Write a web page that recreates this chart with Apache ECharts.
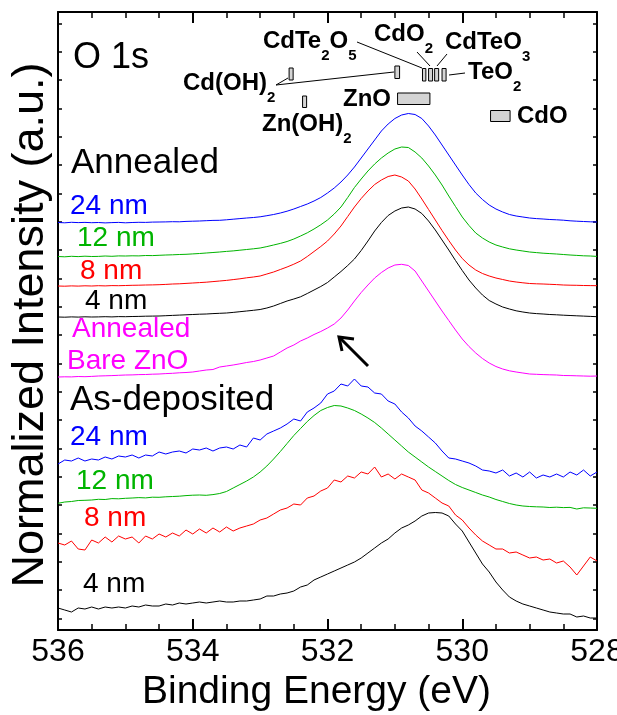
<!DOCTYPE html>
<html>
<head>
<meta charset="utf-8">
<script src="https://cdn.jsdelivr.net/npm/echarts@6/dist/echarts.min.js"></script>
<style>
html, body { margin: 0; padding: 0; background: #fff; }
#chart { width: 617px; height: 715px; }
</style>
</head>
<body>
<div id="chart"></div>
<script>
// Binding-energy grid (eV), high to low
const energy = [
  536.0, 535.9, 535.8, 535.7, 535.6, 535.5, 535.4, 535.3, 535.2, 535.1,
  535.0, 534.9, 534.8, 534.7, 534.6, 534.5, 534.4, 534.3, 534.2, 534.1,
  534.0, 533.9, 533.8, 533.7, 533.6, 533.5, 533.4, 533.3, 533.2, 533.1,
  533.0, 532.9, 532.8, 532.7, 532.6, 532.5, 532.4, 532.3, 532.2, 532.1,
  532.0, 531.9, 531.8, 531.7, 531.6, 531.5, 531.4, 531.3, 531.2, 531.1,
  531.0, 530.9, 530.8, 530.7, 530.6, 530.5, 530.4, 530.3, 530.2, 530.1,
  530.0, 529.9, 529.8, 529.7, 529.6, 529.5, 529.4, 529.3, 529.2, 529.1,
  529.0, 528.9, 528.8, 528.7, 528.6, 528.5, 528.4, 528.3, 528.2, 528.1, 528.0
];

// O 1s spectra, normalized and vertically offset (a.u.)
const annealed24 = [
  4.075, 4.072, 4.077, 4.074, 4.076, 4.073, 4.075, 4.071, 4.074, 4.076,
  4.072, 4.075, 4.077, 4.076, 4.079, 4.080, 4.081, 4.083, 4.082, 4.086,
  4.088, 4.090, 4.093, 4.096, 4.097, 4.102, 4.108, 4.114, 4.120, 4.125,
  4.132, 4.143, 4.155, 4.170, 4.188, 4.210, 4.235, 4.260, 4.290, 4.325,
  4.370, 4.420, 4.480, 4.550, 4.630, 4.720, 4.810, 4.900, 4.990, 5.060,
  5.115, 5.150, 5.165, 5.155, 5.115, 5.040, 4.950, 4.850, 4.750, 4.650,
  4.550, 4.455, 4.370, 4.305, 4.250, 4.210, 4.180, 4.155, 4.140, 4.130,
  4.120, 4.114, 4.110, 4.105, 4.102, 4.098, 4.092, 4.088, 4.085, 4.082, 4.080
];
const annealed12 = [
  3.735, 3.732, 3.737, 3.734, 3.738, 3.735, 3.736, 3.740, 3.737, 3.741,
  3.740, 3.742, 3.741, 3.745, 3.744, 3.747, 3.750, 3.752, 3.755, 3.757,
  3.761, 3.765, 3.770, 3.775, 3.780, 3.786, 3.791, 3.798, 3.805, 3.812,
  3.820, 3.834, 3.850, 3.866, 3.885, 3.910, 3.940, 3.972, 4.010, 4.052,
  4.100, 4.160, 4.230, 4.325, 4.425, 4.510, 4.590, 4.660, 4.720, 4.770,
  4.810, 4.830, 4.825, 4.780, 4.720, 4.640, 4.550, 4.450, 4.340, 4.235,
  4.130, 4.045, 3.970, 3.920, 3.880, 3.850, 3.830, 3.812, 3.800, 3.790,
  3.780, 3.774, 3.768, 3.764, 3.760, 3.755, 3.750, 3.746, 3.742, 3.740, 3.736
];
const annealed8 = [
  3.440, 3.438, 3.441, 3.439, 3.442, 3.440, 3.443, 3.441, 3.444, 3.443,
  3.445, 3.447, 3.448, 3.450, 3.451, 3.453, 3.456, 3.460, 3.462, 3.466,
  3.470, 3.474, 3.478, 3.484, 3.490, 3.496, 3.504, 3.512, 3.522, 3.530,
  3.540, 3.560, 3.580, 3.605, 3.630, 3.658, 3.690, 3.735, 3.785, 3.835,
  3.890, 3.960, 4.040, 4.135, 4.230, 4.315, 4.390, 4.455, 4.500, 4.535,
  4.550, 4.530, 4.490, 4.410, 4.310, 4.205, 4.100, 3.995, 3.895, 3.800,
  3.715, 3.650, 3.600, 3.565, 3.540, 3.520, 3.505, 3.490, 3.480, 3.472,
  3.465, 3.462, 3.460, 3.457, 3.454, 3.450, 3.448, 3.447, 3.445, 3.444, 3.443
];
const annealed4 = [
  3.130, 3.128, 3.131, 3.129, 3.132, 3.130, 3.131, 3.133, 3.131, 3.134,
  3.133, 3.135, 3.136, 3.138, 3.139, 3.140, 3.143, 3.146, 3.149, 3.152,
  3.155, 3.158, 3.160, 3.164, 3.167, 3.170, 3.176, 3.183, 3.190, 3.197,
  3.205, 3.220, 3.240, 3.265, 3.290, 3.310, 3.332, 3.365, 3.400, 3.435,
  3.475, 3.530, 3.585, 3.645, 3.710, 3.795, 3.890, 3.990, 4.075, 4.145,
  4.190, 4.220, 4.230, 4.210, 4.165, 4.090, 4.000, 3.900, 3.800, 3.695,
  3.595, 3.500, 3.420, 3.350, 3.295, 3.260, 3.230, 3.210, 3.192, 3.180,
  3.170, 3.164, 3.160, 3.155, 3.152, 3.148, 3.145, 3.142, 3.139, 3.136, 3.133
];
const bareZnO = [
  2.530, 2.532, 2.531, 2.535, 2.533, 2.536, 2.540, 2.542, 2.544, 2.547,
  2.550, 2.551, 2.554, 2.555, 2.558, 2.560, 2.564, 2.567, 2.572, 2.575,
  2.580, 2.590, 2.600, 2.605, 2.630, 2.640, 2.650, 2.662, 2.675, 2.685,
  2.700, 2.720, 2.740, 2.780, 2.820, 2.850, 2.890, 2.920, 2.955, 2.985,
  3.020, 3.060, 3.120, 3.200, 3.290, 3.375, 3.450, 3.520, 3.575, 3.620,
  3.650, 3.657, 3.645, 3.590, 3.490, 3.390, 3.290, 3.190, 3.095, 3.000,
  2.910, 2.835, 2.770, 2.715, 2.670, 2.635, 2.610, 2.592, 2.580, 2.570,
  2.560, 2.557, 2.554, 2.552, 2.550, 2.545, 2.544, 2.542, 2.540, 2.538, 2.540
];
const asDep24 = [
  1.66, 1.70, 1.69, 1.72, 1.69, 1.71, 1.70, 1.73, 1.71, 1.74,
  1.73, 1.75, 1.72, 1.75, 1.74, 1.78, 1.76, 1.78, 1.79, 1.77,
  1.81, 1.80, 1.82, 1.79, 1.82, 1.83, 1.81, 1.85, 1.83, 1.92,
  1.90, 1.96, 1.99, 2.02, 2.06, 2.11, 2.09, 2.18, 2.22, 2.27,
  2.36, 2.39, 2.46, 2.44, 2.51, 2.44, 2.43, 2.37, 2.36, 2.29,
  2.26, 2.18, 2.12, 2.04, 1.99, 1.93, 1.87, 1.79, 1.72, 1.71,
  1.69, 1.67, 1.64, 1.60, 1.59, 1.57, 1.60, 1.54, 1.57, 1.53,
  1.58, 1.52, 1.55, 1.53, 1.56, 1.53, 1.58, 1.55, 1.60, 1.54, 1.58
];
const asDep12 = [
  1.267, 1.280, 1.285, 1.295, 1.297, 1.300, 1.307, 1.305, 1.314, 1.312,
  1.317, 1.320, 1.324, 1.321, 1.328, 1.327, 1.332, 1.335, 1.338, 1.344,
  1.348, 1.350, 1.347, 1.354, 1.365, 1.385, 1.420, 1.455, 1.490, 1.530,
  1.580, 1.640, 1.710, 1.785, 1.865, 1.945, 2.015, 2.085, 2.145, 2.195,
  2.225, 2.245, 2.240, 2.220, 2.195, 2.160, 2.120, 2.075, 2.020, 1.960,
  1.900, 1.840, 1.780, 1.730, 1.680, 1.630, 1.585, 1.540, 1.495, 1.455,
  1.425, 1.400, 1.375, 1.350, 1.330, 1.305, 1.285, 1.265, 1.250, 1.240,
  1.235, 1.232, 1.230, 1.225, 1.228, 1.224, 1.226, 1.210, 1.222, 1.220, 1.217
];
const asDep8 = [
  0.87, 0.85, 0.89, 0.81, 0.80, 0.90, 0.87, 0.93, 0.88, 0.94,
  0.91, 0.93, 0.87, 0.94, 0.91, 0.96, 0.93, 0.97, 0.94, 1.00,
  0.96, 1.01, 0.97, 1.02, 0.98, 1.03, 0.99, 1.02, 1.04, 1.06,
  1.10, 1.12, 1.16, 1.20, 1.22, 1.26, 1.25, 1.32, 1.34, 1.39,
  1.42, 1.50, 1.48, 1.54, 1.52, 1.58, 1.56, 1.63, 1.53, 1.56,
  1.51, 1.56, 1.53, 1.50, 1.40, 1.37, 1.32, 1.27, 1.24, 1.15,
  1.10, 1.02, 0.95, 0.89, 0.85, 0.81, 0.81, 0.77, 0.78, 0.75,
  0.72, 0.73, 0.70, 0.71, 0.67, 0.69, 0.63, 0.55, 0.64, 0.73, 0.69
];
const asDep4 = [
  0.22, 0.20, 0.18, 0.22, 0.21, 0.23, 0.21, 0.23, 0.22, 0.23,
  0.22, 0.24, 0.23, 0.25, 0.24, 0.24, 0.26, 0.25, 0.27, 0.26,
  0.27, 0.28, 0.27, 0.28, 0.29, 0.28, 0.28, 0.29, 0.29, 0.30,
  0.31, 0.34, 0.34, 0.36, 0.37, 0.39, 0.43, 0.45, 0.50, 0.53,
  0.56, 0.59, 0.62, 0.65, 0.68, 0.72, 0.77, 0.82, 0.87, 0.91,
  0.97, 1.02, 1.05, 1.09, 1.14, 1.17, 1.175, 1.17, 1.14, 1.06,
  0.99, 0.88, 0.77, 0.66, 0.58, 0.48, 0.40, 0.33, 0.29, 0.26,
  0.24, 0.22, 0.20, 0.18, 0.17, 0.16, 0.16, 0.13, 0.14, 0.12, 0.12
];

// Reference binding-energy ranges (eV) of the candidate oxygen species
const refSpecies = ['Cd(OH)2', 'Cd(OH)2', 'Zn(OH)2', 'CdTe2O5', 'CdO2', 'CdTeO3', 'TeO2', 'ZnO', 'CdO'];
const refHigh = [532.57, 531.00, 532.37, 530.59, 530.50, 530.41, 530.30, 530.96, 529.58];
const refLow  = [532.51, 530.93, 532.31, 530.54, 530.44, 530.35, 530.24, 530.48, 529.29];

// X tick labels
const xTicks = [536, 534, 532, 530, 528];

// Vertical placement (px) of each reference bar: [top, height]
const refRows = [[68, 12], [66, 12.5], [96, 11.5], [68.5, 12.5], [68.5, 12.5], [68.5, 12.5], [68.5, 12.5], [93, 11.5], [110.5, 11]];

const FONT = '"Liberation Sans", Arial, Helvetica, sans-serif';
const BLUE = '#0000ff', GREEN = '#00b400', RED = '#ff0000', MAGENTA = '#ff00ff', BLACK = '#000000';

// y tick marks, evenly spaced along the frame
const yTickVals = [];
for (let k = 0; k <= 21; k++) yTickVals.push(+(0.117 + k * 0.28333).toFixed(4));

function pairs(arr) { return energy.map((e, i) => [e, arr[i]]); }
function spectrum(name, arr, color) {
  return {
    name, type: 'line', data: pairs(arr), showSymbol: false, symbol: 'none',
    lineStyle: { color, width: 1 }, itemStyle: { color },
    xAxisIndex: 0, yAxisIndex: 0, z: 5, silent: true
  };
}

// Text helpers: chemical formulas with subscripts
const measureCtx = document.createElement('canvas').getContext('2d');
function formula(pieces, x, yMid, main, sub) {
  const out = [];
  let cx = x;
  pieces.forEach(([t, isSub]) => {
    const size = isSub ? sub : main;
    const font = 'bold ' + size + 'px ' + FONT;
    measureCtx.font = font;
    out.push({
      type: 'text', x: cx, y: isSub ? yMid + 15 : yMid, z: 20,
      style: { text: t, font, fill: BLACK, textAlign: 'left', textVerticalAlign: 'middle' }
    });
    cx += measureCtx.measureText(t).width;
  });
  return out;
}
function label(text, x, y, size, color) {
  return {
    type: 'text', x, y, z: 20,
    style: { text, font: size + 'px ' + FONT, fill: color, textAlign: 'left', textVerticalAlign: 'middle' }
  };
}
function seg(x1, y1, x2, y2, w) {
  return { type: 'line', z: 20, shape: { x1, y1, x2, y2 }, style: { stroke: BLACK, lineWidth: w || 1 } };
}

const graphics = [
  label('O 1s', 73, 58, 36, BLACK),
  label('Annealed', 71, 163, 35, BLACK),
  label('24 nm', 70, 206, 28, BLUE),
  label('12 nm', 77, 238, 28, GREEN),
  label('8 nm', 80, 271, 28, RED),
  label('4 nm', 85, 301, 28, BLACK),
  label('Annealed', 72, 329, 28, MAGENTA),
  label('Bare ZnO', 67, 361, 28, MAGENTA),
  label('As-deposited', 70, 400, 35, BLACK),
  label('24 nm', 70, 437, 28, BLUE),
  label('12 nm', 76, 481, 28, GREEN),
  label('8 nm', 84, 518, 28, RED),
  label('4 nm', 83, 584, 28, BLACK),
  ...formula([['CdTe', 0], ['2', 1], ['O', 0], ['5', 1]], 263, 41, 24, 15),
  ...formula([['CdO', 0], ['2', 1]], 374, 34, 24, 15),
  ...formula([['CdTeO', 0], ['3', 1]], 445, 42, 24, 15),
  ...formula([['TeO', 0], ['2', 1]], 468, 72, 24, 15),
  ...formula([['Cd(OH)', 0], ['2', 1]], 183, 83, 24, 15),
  ...formula([['ZnO', 0]], 343, 99, 24, 15),
  ...formula([['Zn(OH)', 0], ['2', 1]], 262, 124, 24, 15),
  ...formula([['CdO', 0]], 517, 116, 24, 15),
  // leader lines from formulas to their bars
  seg(357, 42, 422, 68),
  seg(417, 52, 430, 66),
  seg(447, 54, 437, 66),
  seg(449, 75, 465, 73),
  seg(276, 85, 288, 78),
  seg(276, 85, 394, 72),
  // arrow pointing at the shoulder of the bare ZnO peak
  seg(368, 366, 340, 338, 3),
  { type: 'polyline', z: 20, shape: { points: [[342, 351], [339, 337], [354, 339]] },
    style: { stroke: BLACK, lineWidth: 3, fill: null, lineJoin: 'miter' } }
];

const xAxisBase = {
  type: 'value', min: 528, max: 536, interval: 2, inverse: true,
  axisLine: { show: true, onZero: false, lineStyle: { color: BLACK, width: 2 } },
  axisTick: { show: true, inside: true, length: 11, lineStyle: { color: BLACK, width: 2 } },
  minorTick: { show: true, splitNumber: 4, length: 6, lineStyle: { color: BLACK, width: 1.5 } },
  splitLine: { show: false }, minorSplitLine: { show: false }
};
const yAxisBase = {
  type: 'value', min: 0, max: 6.18,
  axisLine: { show: true, onZero: false, lineStyle: { color: BLACK, width: 2 } },
  axisTick: { show: true, inside: true, length: 4, customValues: yTickVals, lineStyle: { color: BLACK, width: 1.5 } },
  axisLabel: { show: false },
  splitLine: { show: false }
};

const option = {
  animation: false,
  backgroundColor: '#ffffff',
  grid: { left: 58, right: 20, top: 12, bottom: 85, containLabel: false, outerBoundsMode: 'none' },
  xAxis: [
    Object.assign({}, xAxisBase, {
      position: 'bottom',
      axisLabel: {
        show: true, color: BLACK, fontSize: 32, fontFamily: FONT, margin: 6,
        customValues: xTicks, formatter: v => String(v)
      },
      name: 'Binding Energy (eV)', nameLocation: 'middle', nameGap: 43,
      nameTextStyle: { color: BLACK, fontSize: 39, fontFamily: FONT, padding: [0, 22, 0, 0] }
    }),
    Object.assign({}, xAxisBase, { position: 'top', axisLabel: { show: false } })
  ],
  yAxis: [
    Object.assign({}, yAxisBase, {
      position: 'left',
      name: 'Normalized Intensity (a.u.)', nameLocation: 'middle', nameGap: 5,
      nameTextStyle: { color: BLACK, fontSize: 45, fontFamily: FONT, padding: [0, 8, 0, 0] }
    }),
    Object.assign({}, yAxisBase, { position: 'right' })
  ],
  series: [
    {
      name: 'reference', type: 'custom', xAxisIndex: 0, yAxisIndex: 0, z: 3, silent: true,
      data: refHigh.map((h, i) => [h, refLow[i]]),
      encode: { x: [0, 1] },
      renderItem: (params, api) => {
        const i = params.dataIndex;
        const a = api.coord([api.value(0), 0]);
        const b = api.coord([api.value(1), 0]);
        const row = refRows[i];
        return {
          type: 'rect',
          shape: { x: Math.min(a[0], b[0]), y: row[0], width: Math.abs(b[0] - a[0]), height: row[1] },
          style: { fill: '#d4d4d4', stroke: BLACK, lineWidth: 1 }
        };
      }
    },
    spectrum('Annealed 24 nm', annealed24, BLUE),
    spectrum('Annealed 12 nm', annealed12, GREEN),
    spectrum('Annealed 8 nm', annealed8, RED),
    spectrum('Annealed 4 nm', annealed4, BLACK),
    spectrum('Annealed bare ZnO', bareZnO, MAGENTA),
    spectrum('As-deposited 24 nm', asDep24, BLUE),
    spectrum('As-deposited 12 nm', asDep12, GREEN),
    spectrum('As-deposited 8 nm', asDep8, RED),
    spectrum('As-deposited 4 nm', asDep4, BLACK)
  ],
  graphic: graphics
};

const chart = echarts.init(document.getElementById('chart'), null, { renderer: 'canvas' });
chart.setOption(option);
</script>
</body>
</html>
